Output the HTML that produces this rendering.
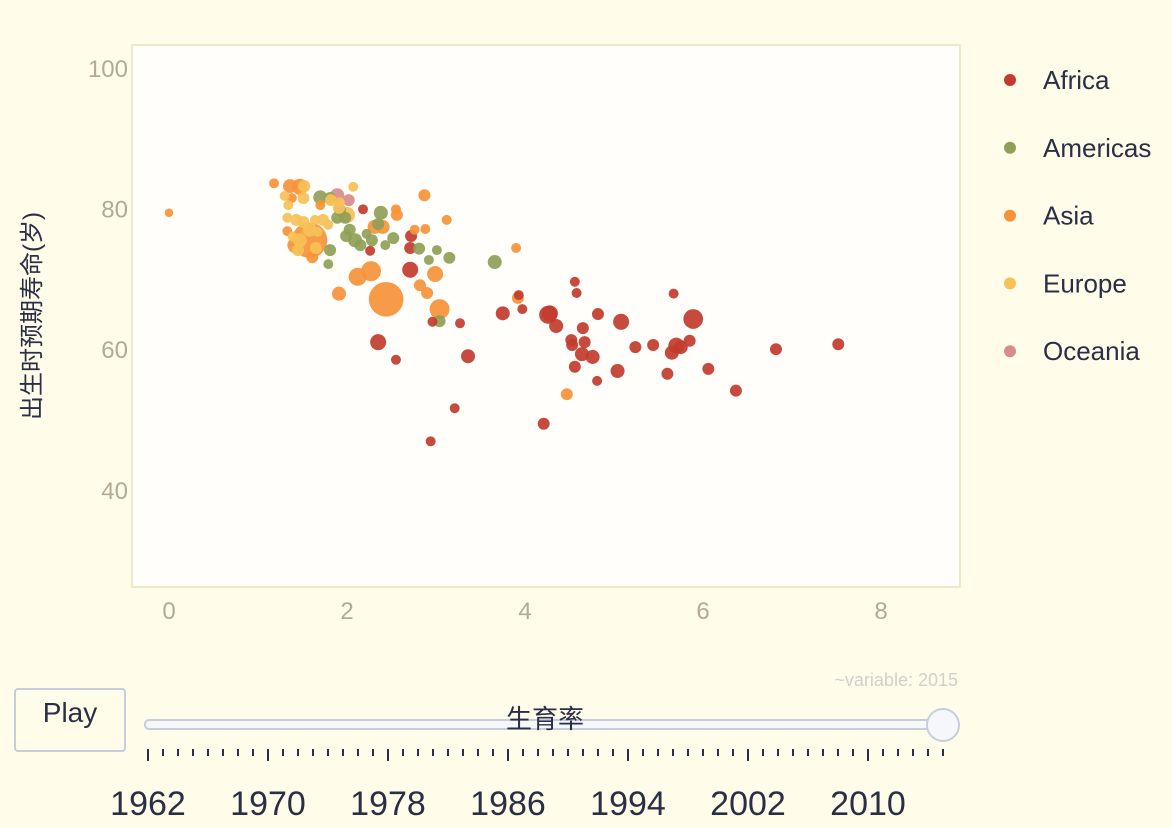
<!DOCTYPE html>
<html><head><meta charset="utf-8">
<style>
html,body{margin:0;padding:0;background:#fffcea;}
svg{display:block;font-family:"Liberation Sans","Noto Sans CJK SC",sans-serif;}
</style></head>
<body>
<svg id="chart" width="1172" height="828" viewBox="0 0 1172 828">
<rect x="0" y="0" width="1172" height="828" fill="#fffcea"/>
<rect x="132" y="45" width="828" height="542" fill="#fffefa" stroke="#f1e7c9" stroke-width="2"/>
<g id="yticks"></g>
<g id="xticks"></g>
<g id="points"></g>
<g id="legend"></g>
<text x="40" y="316" transform="rotate(-90 40 316)" text-anchor="middle" font-size="24" fill="#2a2f45">出生时预期寿命(岁)</text>
<text x="958" y="686" text-anchor="end" font-size="18" fill="#d2d0c8">~variable: 2015</text>
<rect x="15" y="689" width="110" height="62" rx="3" fill="#fffcea" stroke="#c6cedd" stroke-width="2"/>
<text x="70" y="722" text-anchor="middle" font-size="28" fill="#2a2f45">Play</text>
<rect x="145" y="720" width="798" height="9" rx="4" fill="#f6f7fa" stroke="#c6cedd" stroke-width="2"/>
<text x="545" y="728" text-anchor="middle" font-size="26" fill="#2a2f45">生育率</text>
<circle cx="943" cy="725" r="16" fill="#f6f7fa" stroke="#c6cedd" stroke-width="2"/>
<g id="slider"></g>
</svg>
<script>
const continents=["Africa","Americas","Asia","Europe","Oceania"];
const colors=["#c23b2f","#8f9f57","#f7923a","#f6c157","#d98c8c"];
const xTicks=[0,2,4,6,8];
const yTicks=[40,60,80,100];
const years=[1962,1970,1978,1986,1994,2002,2010];
// [fertility, lifeExp, pop(millions), continentIndex]
const fertility=[7.52,6.82,6.37,6.06,5.89,5.85,5.75,5.70,5.65,5.67,5.60,5.44,5.24,5.08,5.04,4.82,4.81,4.76,4.67,4.65,4.64,4.52,4.53,4.56,4.58,4.56,4.35,4.28,4.26,4.21,3.97,3.93,3.75,3.36,3.27,3.21,2.96,2.94,2.71,2.72,2.71,2.55,2.35,2.26,2.18,
3.66,3.15,3.04,3.01,2.92,2.81,2.52,2.43,2.35,2.38,2.28,2.22,2.15,2.09,2.03,1.98,1.92,1.81,1.81,1.70,1.79,1.89,1.99,
0.0,1.18,1.47,1.58,1.42,1.33,1.38,1.61,1.91,2.12,2.27,2.44,2.99,3.04,2.82,2.90,2.87,3.12,2.88,2.55,2.56,2.31,2.76,3.90,3.92,4.47,2.40,1.36,1.70,
1.30,1.52,1.51,1.34,1.43,1.45,1.47,1.58,1.51,1.39,1.64,1.73,1.67,2.00,1.91,1.82,1.92,2.07,1.79,1.65,1.33,
1.89,2.02];
const lifeExp=[60.7,60.0,54.1,57.2,64.3,61.2,60.3,60.5,59.5,67.9,56.5,60.6,60.3,63.9,56.9,65.0,55.5,58.9,61.0,63.0,59.3,61.3,60.6,57.5,68.0,69.6,63.3,65.1,64.9,49.4,65.7,67.7,65.1,59.0,63.7,51.6,63.9,46.9,71.3,76.1,74.4,58.5,61.0,74.0,79.9,
72.4,73.0,64.0,74.1,72.7,74.3,75.8,74.8,77.8,79.4,75.5,76.4,74.8,75.5,77.0,78.7,79.8,74.1,81.5,81.6,72.1,78.7,76.1,
79.4,83.6,83.1,75.5,74.8,76.8,81.5,73.1,67.9,70.3,71.1,67.1,70.7,65.7,69.1,68.0,81.9,78.4,77.1,79.9,79.1,77.4,77.0,74.4,67.3,53.6,77.4,83.2,80.5,
81.8,83.2,81.5,80.5,78.4,74.1,75.5,77.0,78.1,76.0,78.4,78.4,76.7,79.1,80.1,81.2,80.9,83.1,77.7,74.4,78.7,
81.9,81.2];
const population=[29,29,29,29,250,29,66,117,66,7,29,29,29,117,66,29,7,66,29,29,66,29,29,29,7,7,66,117,183,29,7,7,66,66,7,7,7,7,117,29,29,7,117,7,7,
66,29,29,7,7,29,29,7,29,66,29,7,29,66,29,29,29,29,29,66,7,29,29,
0.5,7,117,1370,117,7,7,29,66,183,263,1300,117,263,29,29,29,7,7,7,29,66,7,7,29,29,66,66,7,
7,29,29,7,29,29,66,66,29,7,7,29,7,117,29,29,7,7,7,29,7,
66,29];
const continentIdx=[0,0,0,0,0,0,0,0,0,0,0,0,0,0,0,0,0,0,0,0,0,0,0,0,0,0,0,0,0,0,0,0,0,0,0,0,0,0,0,0,0,0,0,0,0,
1,1,1,1,1,1,1,1,1,1,1,1,1,1,1,1,1,1,1,1,1,1,1,
2,2,2,2,2,2,2,2,2,2,2,2,2,2,2,2,2,2,2,2,2,2,2,2,2,2,2,2,2,
3,3,3,3,3,3,3,3,3,3,3,3,3,3,3,3,3,3,3,3,3,
4,4];

const NS="http://www.w3.org/2000/svg";
function mk(tag,attrs,parent){const e=document.createElementNS(NS,tag);for(const k in attrs)e.setAttribute(k,attrs[k]);parent.appendChild(e);return e;}
const sx=v=>169+v*89;
const sy=v=>68+(100-v)*7.03;
const sr=p=>4+Math.sqrt(p)*0.37;

const yg=document.getElementById('yticks');
yTicks.forEach(t=>{const e=mk('text',{x:128,y:sy(t)+9,'text-anchor':'end','font-size':24,fill:'#b3aa94'},yg);


e.textContent=t;});
const xg=document.getElementById('xticks');
xTicks.forEach(t=>{const e=mk('text',{x:sx(t),y:619,'text-anchor':'middle','font-size':24,fill:'#b3aa94'},xg);


e.textContent=t;});

const pg=document.getElementById('points');
const order=fertility.map((_,i)=>i).sort((a,b)=>population[b]-population[a]);
order.forEach(i=>{const c=mk('circle',{cx:sx(fertility[i]),cy:sy(lifeExp[i]),r:sr(population[i]),fill:colors[continentIdx[i]],'fill-opacity':0.92},pg);

});

const lg=document.getElementById('legend');
continents.forEach((n,i)=>{const y=80+i*67.8;
const c=mk('circle',{cx:1010,cy:y,r:6,fill:colors[i]},lg);


const t=mk('text',{x:1043,y:y+9,'font-size':26,fill:'#2a2f45'},lg);


t.textContent=n;});

const sg=document.getElementById('slider');
const y0=1962,y1=2015,xa=148,xb=943;
const syr=y=>xa+(y-y0)*(xb-xa)/(y1-y0);
for(let y=y0;y<=y1;y++){const major=years.includes(y);
const l=mk('line',{x1:syr(y),x2:syr(y),y1:749,y2:major?761:756,stroke:'#2a2f45','stroke-width':2},sg);

}
years.forEach(y=>{const t=mk('text',{x:syr(y),y:815,'text-anchor':'middle','font-size':34,fill:'#2a2f45'},sg);


t.textContent=y;});
</script>
</body></html>
